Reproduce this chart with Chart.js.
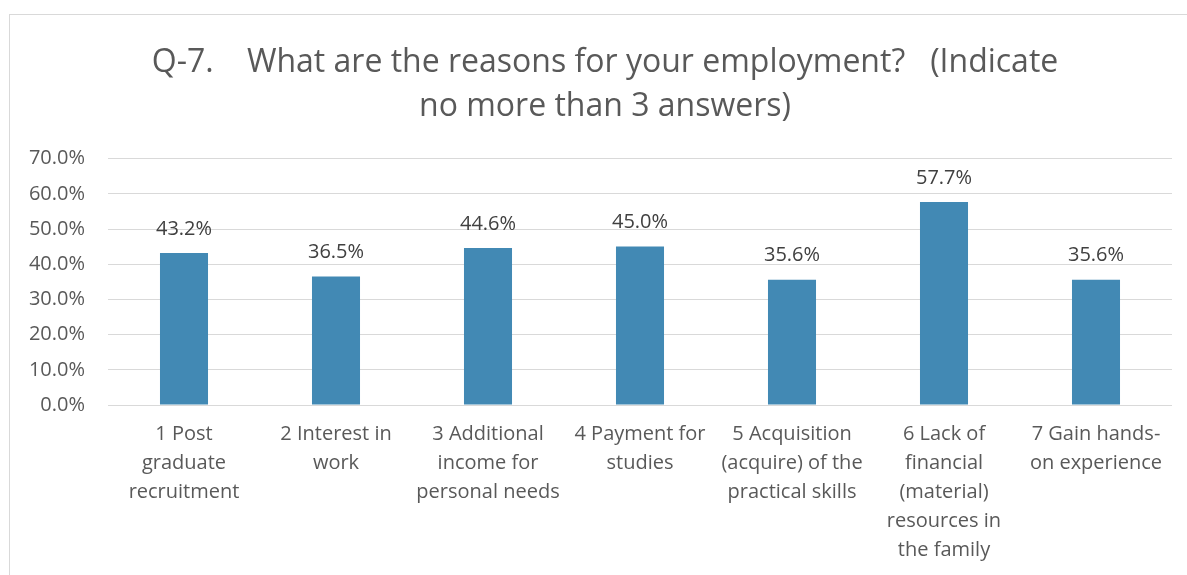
<!DOCTYPE html>
<html>
<head>
<meta charset="utf-8">
<title>Q-7 reasons for employment</title>
<script src="https://cdn.jsdelivr.net/npm/chart.js@4/dist/chart.umd.min.js"></script>
<style>
  html, body { margin: 0; padding: 0; background: #fff; overflow: hidden; }
  #frame { position: absolute; left: 9px; top: 14px; border: 1px solid #d9d9d9; }
  #wrap { position: relative; width: 1190px; height: 580px; }
</style>
</head>
<body>
<div id="frame"><div id="wrap"><canvas id="reasons"></canvas></div></div>
<script>
const titleLines = ['Q-7.    What are the reasons for your employment?   (Indicate', 'no more than 3 answers)']
const categories = [
  ['1 Post', 'graduate', 'recruitment'],
  ['2 Interest in', 'work'],
  ['3 Additional', 'income for', 'personal needs'],
  ['4 Payment for', 'studies'],
  ['5 Acquisition', '(acquire) of the', 'practical skills'],
  ['6 Lack of', 'financial', '(material)', 'resources in', 'the family'],
  ['7 Gain hands-', 'on experience']
]
const shares = [43.2, 36.5, 44.6, 45.0, 35.6, 57.7, 35.6]
const yTicks = [0, 10, 20, 30, 40, 50, 60, 70]

const FONT = "'Open Sans', sans-serif"
const pct = v => Number(v).toFixed(1) + '%'

// value labels above each bar
const barLabels = {
  id: 'barLabels',
  afterDatasetsDraw(chart) {
    const ctx = chart.ctx
    ctx.save()
    ctx.font = '20px ' + FONT
    ctx.fillStyle = '#404040'
    ctx.textAlign = 'center'
    ctx.textBaseline = 'middle'
    chart.getDatasetMeta(0).data.forEach((bar, i) => {
      ctx.fillText(pct(shares[i]), bar.x, bar.y - 24)
    })
    ctx.restore()
  }
}

function initChart() {
  const el = document.getElementById('reasons')
  if (!el) { console.error('canvas not found'); return }
  new Chart(el, {
    type: 'bar',
    data: {
      labels: categories,
      datasets: [{
        label: 'Share',
        data: shares,
        backgroundColor: '#4289b4',
        barPercentage: 0.316,
        categoryPercentage: 1
      }]
    },
    options: {
      responsive: true,
      maintainAspectRatio: false,
      animation: false,
      layout: { padding: 0 },
      plugins: {
        legend: { display: false },
        tooltip: { enabled: false },
        title: {
          display: true,
          text: titleLines,
          color: '#595959',
          font: { family: FONT, size: 32, weight: 'normal', lineHeight: 1.4 },
          padding: { top: 25, bottom: 29 }
        }
      },
      scales: {
        y: {
          min: 0,
          max: 70,
          afterBuildTicks: s => { s.ticks = yTicks.map(v => ({ value: v })) },
          afterFit: s => { s.width = 98 },
          border: { display: false },
          grid: { color: '#d9d9d9', lineWidth: 1, drawTicks: false },
          ticks: {
            padding: 23,
            color: '#595959',
            font: { family: FONT, size: 20 },
            callback: v => pct(v)
          }
        },
        // empty right-hand margin so the title stays centred on the whole box
        yRight: {
          position: 'right',
          min: 0,
          max: 70,
          afterFit: s => { s.width = 28 },
          border: { display: false },
          grid: { display: false, drawTicks: false },
          ticks: { display: false }
        },
        x: {
          afterFit: s => { s.height = 190 },
          border: { display: false },
          grid: { display: false, drawTicks: false },
          ticks: {
            padding: 15,
            maxRotation: 0,
            minRotation: 0,
            autoSkip: false,
            color: '#595959',
            font: { family: FONT, size: 20, lineHeight: 1.45 }
          }
        }
      }
    },
    plugins: [barLabels]
  })
}

document.addEventListener('DOMContentLoaded', initChart)
</script>
</body>
</html>
